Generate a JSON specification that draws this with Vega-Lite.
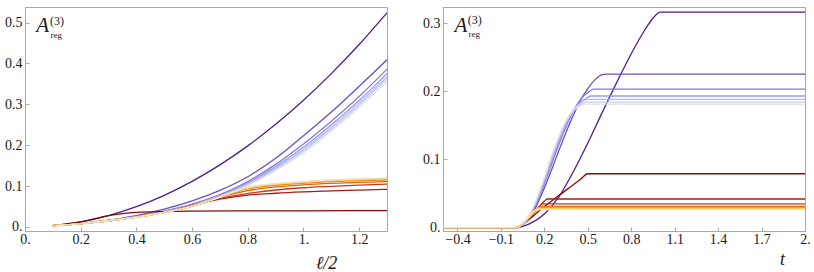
{
"$schema": "https://vega.github.io/schema/vega-lite/v6.json",
"padding": {"left": 4, "top": 6, "right": 0, "bottom": 0},
"background": "white",
"bounds": "flush",
"spacing": 56,
"config": {
 "view": {"stroke": "#a8a8a8", "strokeWidth": 1},
 "font": "Liberation Serif"
},
"datasets": {
"left": [
{"s":0,"x":0.1,"y":0.0031},{"s":0,"x":0.2,"y":0.0124},{"s":0,"x":0.3,"y":0.0279},{"s":0,"x":0.4,"y":0.0496},{"s":0,"x":0.5,"y":0.0775},{"s":0,"x":0.6,"y":0.1116},{"s":0,"x":0.7,"y":0.1519},{"s":0,"x":0.8,"y":0.1984},{"s":0,"x":0.9,"y":0.2511},{"s":0,"x":1.0,"y":0.31},{"s":0,"x":1.1,"y":0.3751},{"s":0,"x":1.2,"y":0.4464},{"s":0,"x":1.3,"y":0.5239},
{"s":1,"x":0.1,"y":0.0031},{"s":1,"x":0.2,"y":0.0087},{"s":1,"x":0.3,"y":0.0167},{"s":1,"x":0.4,"y":0.0278},{"s":1,"x":0.5,"y":0.0434},{"s":1,"x":0.6,"y":0.0636},{"s":1,"x":0.7,"y":0.0896},{"s":1,"x":0.8,"y":0.123},{"s":1,"x":0.9,"y":0.168},{"s":1,"x":1.0,"y":0.223},{"s":1,"x":1.1,"y":0.281},{"s":1,"x":1.2,"y":0.344},{"s":1,"x":1.3,"y":0.409},
{"s":2,"x":0.1,"y":0.0031},{"s":2,"x":0.2,"y":0.0084},{"s":2,"x":0.3,"y":0.0159},{"s":2,"x":0.4,"y":0.0258},{"s":2,"x":0.5,"y":0.0388},{"s":2,"x":0.6,"y":0.0558},{"s":2,"x":0.7,"y":0.079},{"s":2,"x":0.8,"y":0.1111},{"s":2,"x":0.9,"y":0.1532},{"s":2,"x":1.0,"y":0.2031},{"s":2,"x":1.1,"y":0.2588},{"s":2,"x":1.2,"y":0.3192},{"s":2,"x":1.3,"y":0.3861},
{"s":3,"x":0.1,"y":0.0031},{"s":3,"x":0.2,"y":0.0083},{"s":3,"x":0.3,"y":0.0157},{"s":3,"x":0.4,"y":0.0252},{"s":3,"x":0.5,"y":0.0377},{"s":3,"x":0.6,"y":0.0541},{"s":3,"x":0.7,"y":0.0767},{"s":3,"x":0.8,"y":0.1074},{"s":3,"x":0.9,"y":0.1476},{"s":3,"x":1.0,"y":0.1949},{"s":3,"x":1.1,"y":0.2498},{"s":3,"x":1.2,"y":0.3093},{"s":3,"x":1.3,"y":0.3751},
{"s":4,"x":0.1,"y":0.0031},{"s":4,"x":0.2,"y":0.0083},{"s":4,"x":0.3,"y":0.0155},{"s":4,"x":0.4,"y":0.0249},{"s":4,"x":0.5,"y":0.0369},{"s":4,"x":0.6,"y":0.0531},{"s":4,"x":0.7,"y":0.0753},{"s":4,"x":0.8,"y":0.1051},{"s":4,"x":0.9,"y":0.144},{"s":4,"x":1.0,"y":0.1896},{"s":4,"x":1.1,"y":0.2439},{"s":4,"x":1.2,"y":0.3029},{"s":4,"x":1.3,"y":0.3679},
{"s":5,"x":0.1,"y":0.0031},{"s":5,"x":0.2,"y":0.0082},{"s":5,"x":0.3,"y":0.0154},{"s":5,"x":0.4,"y":0.0246},{"s":5,"x":0.5,"y":0.0363},{"s":5,"x":0.6,"y":0.0522},{"s":5,"x":0.7,"y":0.0741},{"s":5,"x":0.8,"y":0.1031},{"s":5,"x":0.9,"y":0.141},{"s":5,"x":1.0,"y":0.1852},{"s":5,"x":1.1,"y":0.239},{"s":5,"x":1.2,"y":0.2975},{"s":5,"x":1.3,"y":0.362},
{"s":6,"x":0.1,"y":0.0031},{"s":6,"x":0.2,"y":0.0082},{"s":6,"x":0.3,"y":0.0153},{"s":6,"x":0.4,"y":0.0243},{"s":6,"x":0.5,"y":0.0357},{"s":6,"x":0.6,"y":0.0513},{"s":6,"x":0.7,"y":0.0729},{"s":6,"x":0.8,"y":0.1012},{"s":6,"x":0.9,"y":0.1381},{"s":6,"x":1.0,"y":0.181},{"s":6,"x":1.1,"y":0.2344},{"s":6,"x":1.2,"y":0.2924},{"s":6,"x":1.3,"y":0.3563},
{"s":15,"x":0.1,"y":0.0031},{"s":15,"x":0.2,"y":0.0124},{"s":15,"x":0.3,"y":0.0279},{"s":15,"x":0.35,"y":0.0325},{"s":15,"x":0.4,"y":0.0355},{"s":15,"x":0.5,"y":0.0378},{"s":15,"x":0.6,"y":0.0387},{"s":15,"x":0.8,"y":0.0393},{"s":15,"x":1.0,"y":0.0396},{"s":15,"x":1.3,"y":0.04},
{"s":14,"x":0.1,"y":0.0031},{"s":14,"x":0.2,"y":0.0082},{"s":14,"x":0.3,"y":0.0153},{"s":14,"x":0.4,"y":0.0243},{"s":14,"x":0.5,"y":0.0357},{"s":14,"x":0.55,"y":0.043},{"s":14,"x":0.6,"y":0.053},{"s":14,"x":0.7,"y":0.068},{"s":14,"x":0.8,"y":0.078},{"s":14,"x":0.9,"y":0.0825},{"s":14,"x":1.0,"y":0.0857},{"s":14,"x":1.1,"y":0.0882},{"s":14,"x":1.2,"y":0.0902},{"s":14,"x":1.3,"y":0.092},
{"s":13,"x":0.1,"y":0.0031},{"s":13,"x":0.2,"y":0.0082},{"s":13,"x":0.3,"y":0.0153},{"s":13,"x":0.4,"y":0.0243},{"s":13,"x":0.5,"y":0.0357},{"s":13,"x":0.6,"y":0.0513},{"s":13,"x":0.65,"y":0.061},{"s":13,"x":0.7,"y":0.07},{"s":13,"x":0.8,"y":0.082},{"s":13,"x":0.9,"y":0.0905},{"s":13,"x":1.0,"y":0.096},{"s":13,"x":1.1,"y":0.0995},{"s":13,"x":1.2,"y":0.1025},{"s":13,"x":1.3,"y":0.105},
{"s":12,"x":0.1,"y":0.0031},{"s":12,"x":0.2,"y":0.0082},{"s":12,"x":0.3,"y":0.0153},{"s":12,"x":0.4,"y":0.0243},{"s":12,"x":0.5,"y":0.0357},{"s":12,"x":0.6,"y":0.0513},{"s":12,"x":0.7,"y":0.0725},{"s":12,"x":0.8,"y":0.089},{"s":12,"x":0.9,"y":0.098},{"s":12,"x":1.0,"y":0.103},{"s":12,"x":1.1,"y":0.1065},{"s":12,"x":1.2,"y":0.109},{"s":12,"x":1.3,"y":0.111},
{"s":11,"x":0.1,"y":0.0031},{"s":11,"x":0.2,"y":0.0082},{"s":11,"x":0.3,"y":0.0153},{"s":11,"x":0.4,"y":0.0243},{"s":11,"x":0.5,"y":0.0357},{"s":11,"x":0.6,"y":0.0513},{"s":11,"x":0.7,"y":0.0729},{"s":11,"x":0.75,"y":0.084},{"s":11,"x":0.8,"y":0.093},{"s":11,"x":0.9,"y":0.102},{"s":11,"x":1.0,"y":0.107},{"s":11,"x":1.1,"y":0.111},{"s":11,"x":1.2,"y":0.1135},{"s":11,"x":1.3,"y":0.115},
{"s":10,"x":0.1,"y":0.0031},{"s":10,"x":0.2,"y":0.0082},{"s":10,"x":0.3,"y":0.0153},{"s":10,"x":0.4,"y":0.0243},{"s":10,"x":0.5,"y":0.0357},{"s":10,"x":0.6,"y":0.0513},{"s":10,"x":0.7,"y":0.0729},{"s":10,"x":0.75,"y":0.085},{"s":10,"x":0.8,"y":0.095},{"s":10,"x":0.9,"y":0.104},{"s":10,"x":1.0,"y":0.109},{"s":10,"x":1.1,"y":0.113},{"s":10,"x":1.2,"y":0.1155},{"s":10,"x":1.3,"y":0.117},
{"s":9,"x":0.1,"y":0.0031},{"s":9,"x":0.2,"y":0.0082},{"s":9,"x":0.3,"y":0.0153},{"s":9,"x":0.4,"y":0.0243},{"s":9,"x":0.5,"y":0.0357},{"s":9,"x":0.6,"y":0.0513},{"s":9,"x":0.7,"y":0.0729},{"s":9,"x":0.75,"y":0.0855},{"s":9,"x":0.8,"y":0.096},{"s":9,"x":0.9,"y":0.105},{"s":9,"x":1.0,"y":0.11},{"s":9,"x":1.1,"y":0.1138},{"s":9,"x":1.2,"y":0.1163},{"s":9,"x":1.3,"y":0.118},
{"s":8,"x":0.1,"y":0.0031},{"s":8,"x":0.2,"y":0.0082},{"s":8,"x":0.3,"y":0.0153},{"s":8,"x":0.4,"y":0.0243},{"s":8,"x":0.5,"y":0.0357},{"s":8,"x":0.6,"y":0.0513},{"s":8,"x":0.7,"y":0.0729},{"s":8,"x":0.75,"y":0.086},{"s":8,"x":0.8,"y":0.0965},{"s":8,"x":0.9,"y":0.1055},{"s":8,"x":1.0,"y":0.1105},{"s":8,"x":1.1,"y":0.1145},{"s":8,"x":1.2,"y":0.1172},{"s":8,"x":1.3,"y":0.119},
{"s":7,"x":0.1,"y":0.0031},{"s":7,"x":0.2,"y":0.0082},{"s":7,"x":0.3,"y":0.0153},{"s":7,"x":0.4,"y":0.0243},{"s":7,"x":0.5,"y":0.0357},{"s":7,"x":0.6,"y":0.0513},{"s":7,"x":0.7,"y":0.0729},{"s":7,"x":0.75,"y":0.086},{"s":7,"x":0.8,"y":0.097},{"s":7,"x":0.9,"y":0.106},{"s":7,"x":1.0,"y":0.111},{"s":7,"x":1.1,"y":0.115},{"s":7,"x":1.2,"y":0.118},{"s":7,"x":1.3,"y":0.12}
],
"right": [
{"s":0,"x":-0.5,"y":0},{"s":0,"x":0,"y":0},{"s":0,"x":0.1,"y":0.006},{"s":0,"x":0.2,"y":0.02},{"s":0,"x":0.3,"y":0.045},{"s":0,"x":0.4,"y":0.082},{"s":0,"x":0.5,"y":0.124},{"s":0,"x":0.6,"y":0.169},{"s":0,"x":0.7,"y":0.213},{"s":0,"x":0.8,"y":0.255},{"s":0,"x":0.9,"y":0.292},{"s":0,"x":0.95,"y":0.307},{"s":0,"x":1.0,"y":0.316},{"s":0,"x":2.0,"y":0.316},
{"s":1,"x":-0.5,"y":0},{"s":1,"x":0,"y":0},{"s":1,"x":0.05,"y":0.004},{"s":1,"x":0.1,"y":0.015},{"s":1,"x":0.15,"y":0.034},{"s":1,"x":0.2,"y":0.058},{"s":1,"x":0.25,"y":0.085},{"s":1,"x":0.3,"y":0.113},{"s":1,"x":0.35,"y":0.14},{"s":1,"x":0.4,"y":0.165},{"s":1,"x":0.45,"y":0.187},{"s":1,"x":0.5,"y":0.204},{"s":1,"x":0.55,"y":0.217},{"s":1,"x":0.6,"y":0.2245},{"s":1,"x":0.62,"y":0.225},{"s":1,"x":2.0,"y":0.225},
{"s":2,"x":-0.5,"y":0},{"s":2,"x":0,"y":0},{"s":2,"x":0.05,"y":0.005},{"s":2,"x":0.1,"y":0.017},{"s":2,"x":0.15,"y":0.038},{"s":2,"x":0.2,"y":0.064},{"s":2,"x":0.25,"y":0.093},{"s":2,"x":0.3,"y":0.122},{"s":2,"x":0.35,"y":0.148},{"s":2,"x":0.4,"y":0.171},{"s":2,"x":0.45,"y":0.188},{"s":2,"x":0.5,"y":0.198},{"s":2,"x":0.54,"y":0.203},{"s":2,"x":2.0,"y":0.203},
{"s":3,"x":-0.5,"y":0},{"s":3,"x":0,"y":0},{"s":3,"x":0.05,"y":0.0055},{"s":3,"x":0.1,"y":0.018},{"s":3,"x":0.15,"y":0.04},{"s":3,"x":0.2,"y":0.067},{"s":3,"x":0.25,"y":0.097},{"s":3,"x":0.3,"y":0.126},{"s":3,"x":0.35,"y":0.151},{"s":3,"x":0.4,"y":0.171},{"s":3,"x":0.45,"y":0.184},{"s":3,"x":0.5,"y":0.191},{"s":3,"x":0.52,"y":0.193},{"s":3,"x":2.0,"y":0.193},
{"s":4,"x":-0.5,"y":0},{"s":4,"x":0,"y":0},{"s":4,"x":0.05,"y":0.0057},{"s":4,"x":0.1,"y":0.019},{"s":4,"x":0.15,"y":0.042},{"s":4,"x":0.2,"y":0.07},{"s":4,"x":0.25,"y":0.101},{"s":4,"x":0.3,"y":0.13},{"s":4,"x":0.35,"y":0.154},{"s":4,"x":0.4,"y":0.172},{"s":4,"x":0.45,"y":0.183},{"s":4,"x":0.5,"y":0.188},{"s":4,"x":2.0,"y":0.188},
{"s":5,"x":-0.5,"y":0},{"s":5,"x":0,"y":0},{"s":5,"x":0.05,"y":0.006},{"s":5,"x":0.1,"y":0.0195},{"s":5,"x":0.15,"y":0.043},{"s":5,"x":0.2,"y":0.072},{"s":5,"x":0.25,"y":0.104},{"s":5,"x":0.3,"y":0.132},{"s":5,"x":0.35,"y":0.156},{"s":5,"x":0.4,"y":0.172},{"s":5,"x":0.45,"y":0.181},{"s":5,"x":0.49,"y":0.184},{"s":5,"x":2.0,"y":0.184},
{"s":6,"x":-0.5,"y":0},{"s":6,"x":0,"y":0},{"s":6,"x":0.05,"y":0.006},{"s":6,"x":0.1,"y":0.02},{"s":6,"x":0.15,"y":0.044},{"s":6,"x":0.2,"y":0.074},{"s":6,"x":0.25,"y":0.106},{"s":6,"x":0.3,"y":0.134},{"s":6,"x":0.35,"y":0.157},{"s":6,"x":0.4,"y":0.172},{"s":6,"x":0.45,"y":0.179},{"s":6,"x":0.48,"y":0.181},{"s":6,"x":2.0,"y":0.181},
{"s":15,"x":-0.5,"y":0},{"s":15,"x":0,"y":0},{"s":15,"x":0.05,"y":0.005},{"s":15,"x":0.1,"y":0.013},{"s":15,"x":0.15,"y":0.022},{"s":15,"x":0.2,"y":0.031},{"s":15,"x":0.25,"y":0.039},{"s":15,"x":0.3,"y":0.047},{"s":15,"x":0.35,"y":0.055},{"s":15,"x":0.4,"y":0.063},{"s":15,"x":0.45,"y":0.071},{"s":15,"x":0.5,"y":0.079},{"s":15,"x":2.0,"y":0.079},
{"s":14,"x":-0.5,"y":0},{"s":14,"x":0,"y":0},{"s":14,"x":0.05,"y":0.005},{"s":14,"x":0.1,"y":0.015},{"s":14,"x":0.15,"y":0.027},{"s":14,"x":0.2,"y":0.039},{"s":14,"x":0.22,"y":0.042},{"s":14,"x":2.0,"y":0.042},
{"s":13,"x":-0.5,"y":0},{"s":13,"x":0,"y":0},{"s":13,"x":0.05,"y":0.005},{"s":13,"x":0.1,"y":0.015},{"s":13,"x":0.15,"y":0.027},{"s":13,"x":0.19,"y":0.035},{"s":13,"x":2.0,"y":0.035},
{"s":12,"x":-0.5,"y":0},{"s":12,"x":0,"y":0},{"s":12,"x":0.05,"y":0.005},{"s":12,"x":0.1,"y":0.016},{"s":12,"x":0.15,"y":0.027},{"s":12,"x":0.175,"y":0.031},{"s":12,"x":2.0,"y":0.031},
{"s":11,"x":-0.5,"y":0},{"s":11,"x":0,"y":0},{"s":11,"x":0.05,"y":0.005},{"s":11,"x":0.1,"y":0.016},{"s":11,"x":0.15,"y":0.027},{"s":11,"x":0.17,"y":0.03},{"s":11,"x":2.0,"y":0.03},
{"s":10,"x":-0.5,"y":0},{"s":10,"x":0,"y":0},{"s":10,"x":0.05,"y":0.005},{"s":10,"x":0.1,"y":0.016},{"s":10,"x":0.15,"y":0.0275},{"s":10,"x":0.165,"y":0.029},{"s":10,"x":2.0,"y":0.029},
{"s":9,"x":-0.5,"y":0},{"s":9,"x":0,"y":0},{"s":9,"x":0.05,"y":0.005},{"s":9,"x":0.1,"y":0.0165},{"s":9,"x":0.15,"y":0.0275},{"s":9,"x":0.16,"y":0.028},{"s":9,"x":2.0,"y":0.028},
{"s":8,"x":-0.5,"y":0},{"s":8,"x":0,"y":0},{"s":8,"x":0.05,"y":0.0055},{"s":8,"x":0.1,"y":0.017},{"s":8,"x":0.155,"y":0.027},{"s":8,"x":2.0,"y":0.027},
{"s":7,"x":-0.5,"y":0},{"s":7,"x":0,"y":0},{"s":7,"x":0.05,"y":0.0055},{"s":7,"x":0.1,"y":0.017},{"s":7,"x":0.15,"y":0.0265},{"s":7,"x":2.0,"y":0.0265}
]
},
"hconcat": [
{
 "width": 362, "height": 224,
 "view": {"stroke": "#a8a8a8", "strokeWidth": 1},
 "layer": [
  {"data": {"name": "left"},
   "mark": {"type": "line", "interpolate": "monotone", "strokeWidth": 1.3, "clip": true},
   "encoding": {
    "x": {"field": "x", "type": "quantitative", "scale": {"domain": [0, 1.3], "nice": false, "zero": false},
      "axis": {"values": [0, 0.2, 0.4, 0.6, 0.8, 1, 1.2], "labelExpr": "abs(datum.value - round(datum.value)) < 1e-9 ? format(round(datum.value), 'd') + '.' : format(datum.value, '.2~f')", "title": "ℓ/2", "titleX": 301, "titleY": 37, "titleAlign": "center", "titleBaseline": "alphabetic",
        "domainColor": "#a8a8a8", "tickColor": "#a8a8a8", "tickSize": -4, "labelFont": "Liberation Serif", "labelFontSize": 14, "labelColor": "#1a1a1a", "grid": false, "labelOverlap": false, "labelFlush": false, "labelPadding": 5, "titleFont": "Liberation Serif", "titleFontStyle": "italic", "titleFontWeight": "normal", "titleFontSize": 18, "titleColor": "#1a1a1a"}},
    "y": {"field": "y", "type": "quantitative", "scale": {"domain": [-0.0098, 0.538], "nice": false, "zero": false},
      "axis": {"values": [0, 0.1, 0.2, 0.3, 0.4, 0.5], "labelExpr": "abs(datum.value - round(datum.value)) < 1e-9 ? format(round(datum.value), 'd') + '.' : format(datum.value, '.2~f')", "title": null,
        "domainColor": "#a8a8a8", "tickColor": "#a8a8a8", "tickSize": -4, "labelFont": "Liberation Serif", "labelFontSize": 14, "labelColor": "#1a1a1a", "grid": false, "labelOverlap": false, "labelPadding": 7}},
    "color": {"field": "s", "type": "nominal", "legend": null,
      "scale": {"domain": [0,1,2,3,4,5,6,7,8,9,10,11,12,13,14,15], "range": ["#4c1d8c","#6b4ec2","#8677e0","#9c98ec","#b3b8f0","#c8cfee","#dfe2e2","#ece3c8","#f7d888","#fbc24a","#f9a51a","#f08a0c","#e06018","#c8391c","#a81c14","#860a0a"]}}
   }},
  {"data": {"values": [{}]}, "mark": {"type": "text", "text": "A", "font": "Liberation Serif", "fontStyle": "italic", "fontSize": 21, "align": "left", "baseline": "alphabetic", "fill": "#1a1a1a"},
   "encoding": {"x": {"datum": 0.04, "type": "quantitative"}, "y": {"datum": 0.477, "type": "quantitative"}}},
  {"data": {"values": [{}]}, "mark": {"type": "text", "text": "(3)", "font": "Liberation Serif", "fontSize": 12, "align": "left", "baseline": "alphabetic", "fill": "#1a1a1a"},
   "encoding": {"x": {"datum": 0.09, "type": "quantitative"}, "y": {"datum": 0.493, "type": "quantitative"}}},
  {"data": {"values": [{}]}, "mark": {"type": "text", "text": "reg", "font": "Liberation Serif", "fontSize": 9, "align": "left", "baseline": "alphabetic", "fill": "#1a1a1a"},
   "encoding": {"x": {"datum": 0.092, "type": "quantitative"}, "y": {"datum": 0.463, "type": "quantitative"}}}
 ]
},
{
 "width": 362, "height": 224,
 "view": {"stroke": "#a8a8a8", "strokeWidth": 1},
 "layer": [
  {"data": {"name": "right"},
   "mark": {"type": "line", "interpolate": "monotone", "strokeWidth": 1.3, "clip": true},
   "encoding": {
    "x": {"field": "x", "type": "quantitative", "scale": {"domain": [-0.5, 2.0], "nice": false, "zero": false},
      "axis": {"values": [-0.4, -0.1, 0.2, 0.5, 0.8, 1.1, 1.4, 1.7, 2.0], "labelExpr": "abs(datum.value - round(datum.value)) < 1e-9 ? format(round(datum.value), 'd') + '.' : format(datum.value, '.2~f')", "title": "t", "titleX": 339, "titleY": 33, "titleAlign": "center", "titleBaseline": "alphabetic",
        "domainColor": "#a8a8a8", "tickColor": "#a8a8a8", "tickSize": -4, "labelFont": "Liberation Serif", "labelFontSize": 14, "labelColor": "#1a1a1a", "grid": false, "labelOverlap": false, "labelFlush": false, "labelPadding": 5, "titleFont": "Liberation Serif", "titleFontStyle": "italic", "titleFontWeight": "normal", "titleFontSize": 18, "titleColor": "#1a1a1a"}},
    "y": {"field": "y", "type": "quantitative", "scale": {"domain": [-0.0049, 0.3235], "nice": false, "zero": false},
      "axis": {"values": [0, 0.05, 0.1, 0.15, 0.2, 0.25, 0.3], "labelExpr": "abs(datum.value - round(datum.value)) < 1e-9 ? format(round(datum.value), 'd') + '.' : format(datum.value, '.2~f')", "title": null,
        "domainColor": "#a8a8a8", "tickColor": "#a8a8a8", "tickSize": -4, "labelFont": "Liberation Serif", "labelFontSize": 14, "labelColor": "#1a1a1a", "grid": false, "labelOverlap": false, "labelPadding": 7}},
    "color": {"field": "s", "type": "nominal", "legend": null,
      "scale": {"domain": [0,1,2,3,4,5,6,7,8,9,10,11,12,13,14,15], "range": ["#4c1d8c","#6b4ec2","#8677e0","#9c98ec","#b3b8f0","#c8cfee","#dfe2e2","#ece3c8","#f7d888","#fbc24a","#f9a51a","#f08a0c","#e06018","#c8391c","#a81c14","#860a0a"]}}
   }},
  {"data": {"values": [{}]}, "mark": {"type": "text", "text": "A", "font": "Liberation Serif", "fontStyle": "italic", "fontSize": 21, "align": "left", "baseline": "alphabetic", "fill": "#1a1a1a"},
   "encoding": {"x": {"datum": -0.42, "type": "quantitative"}, "y": {"datum": 0.287, "type": "quantitative"}}},
  {"data": {"values": [{}]}, "mark": {"type": "text", "text": "(3)", "font": "Liberation Serif", "fontSize": 12, "align": "left", "baseline": "alphabetic", "fill": "#1a1a1a"},
   "encoding": {"x": {"datum": -0.329, "type": "quantitative"}, "y": {"datum": 0.298, "type": "quantitative"}}},
  {"data": {"values": [{}]}, "mark": {"type": "text", "text": "reg", "font": "Liberation Serif", "fontSize": 9, "align": "left", "baseline": "alphabetic", "fill": "#1a1a1a"},
   "encoding": {"x": {"datum": -0.324, "type": "quantitative"}, "y": {"datum": 0.2795, "type": "quantitative"}}}
 ]
}
]
}
